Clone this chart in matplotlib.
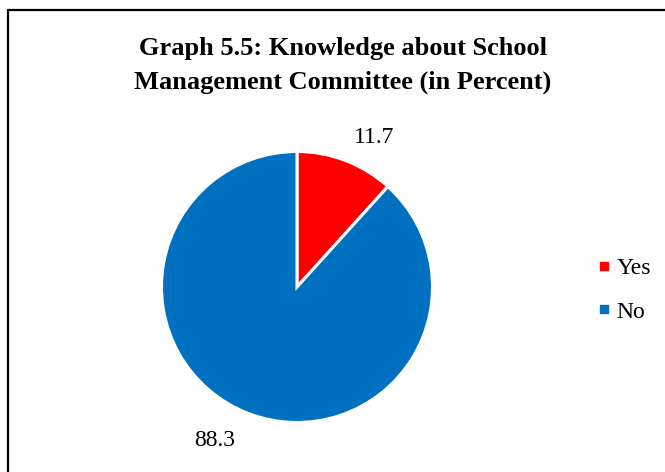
import matplotlib
matplotlib.use("Agg")
import matplotlib.pyplot as plt
from matplotlib.lines import Line2D
from matplotlib.patches import Rectangle

categories = ["Yes", "No"]
values = [11.7, 88.3]
colors = ["#FF0000", "#0070C0"]
title = "Graph 5.5: Knowledge about School\nManagement Committee (in Percent)"

plt.rcParams["font.family"] = ["Liberation Serif", "DejaVu Serif"]

W, H = 665, 472
fig = plt.figure(figsize=(W / 100, H / 100), dpi=100)

# chart frame (runs off the right and bottom edges)
fig.patches.append(Rectangle((8 / W, -0.05), 1.2, 1 - 10 / H + 0.05,
                             transform=fig.transFigure, fill=False,
                             edgecolor="black", linewidth=1.6))

cx, cy, r = 297, H - 287, 135.5
ax = fig.add_axes([(cx - r) / W, (cy - r) / H, 2 * r / W, 2 * r / H])
wedges, _ = ax.pie(values, colors=colors, startangle=90, counterclock=False,
                   wedgeprops=dict(edgecolor="white", linewidth=2.2))
ax.set_xlim(-1, 1)
ax.set_ylim(-1, 1)
ax.set_aspect("equal")

label_pos = [(0.57, 1.107), (-0.605, -1.13)]
for v, (x, y) in zip(values, label_pos):
    ax.text(x, y, f"{v:.1f}", ha="center", va="center", fontsize=17,
            color="black", clip_on=False)

fig.text(343 / W, 1 - 65.5 / H, title, ha="center", va="center",
         fontsize=19, fontweight="bold", linespacing=1.55)

handles = [Line2D([], [], linestyle="none", marker="s", markersize=5.2,
                  markerfacecolor=c, markeredgecolor=c) for c in colors]
fig.legend(handles, categories, loc="center left",
           bbox_to_anchor=(586 / W, 1 - 290 / H), frameon=False,
           fontsize=17, handlelength=0.5, handletextpad=0.3,
           labelspacing=0.95, borderpad=0)

fig.savefig("out.png", dpi=100)
